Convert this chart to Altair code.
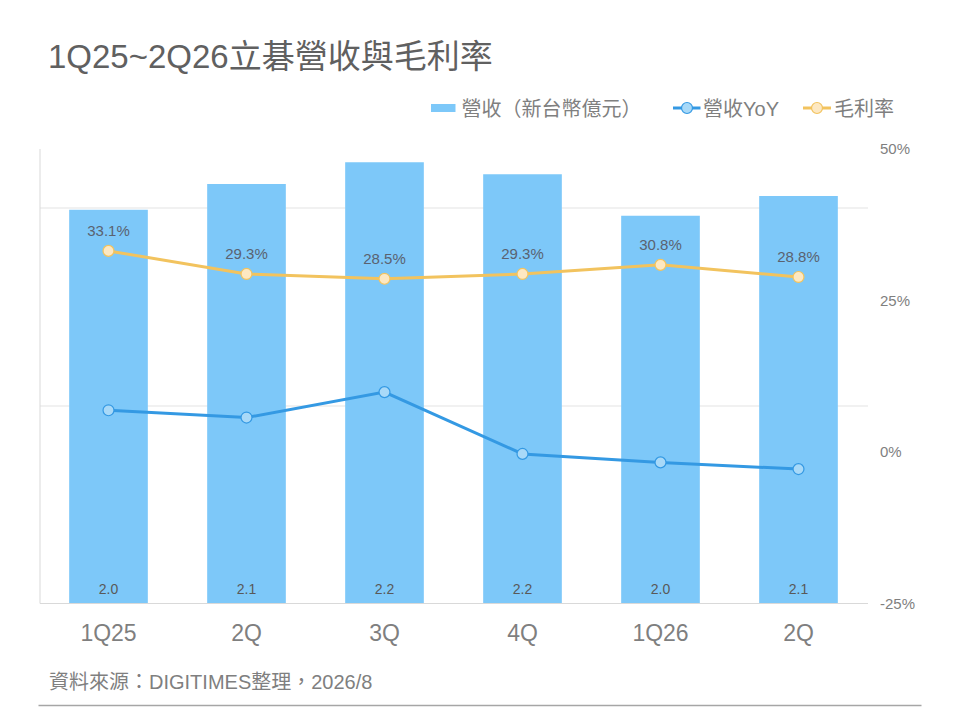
import altair as alt
import pandas as pd

FONT = "Arial, Liberation Sans, Noto Sans CJK TC"

quarters = ["1Q25", "2Q", "3Q", "4Q", "1Q26", "2Q "]
revenue = [1.99, 2.12, 2.23, 2.17, 1.96, 2.06]  # 新台幣億元
revenue_yoy = [6.8, 5.6, 9.8, -0.4, -1.8, -2.9]  # %
gross_margin = [33.1, 29.3, 28.5, 29.3, 30.8, 28.8]  # %

series_names = ["營收YoY", "毛利率"]
line_colors = ["#3499E3", "#F2C35E"]
point_fills = ["#A8D9F8", "#FDE8C2"]

bars_df = pd.DataFrame({"quarter": quarters, "revenue": revenue})
lines_df = pd.concat(
    [
        pd.DataFrame({"quarter": quarters, "series": series_names[0], "pct": revenue_yoy}),
        pd.DataFrame({"quarter": quarters, "series": series_names[1], "pct": gross_margin}),
    ],
    ignore_index=True,
)

x_enc = alt.X(
    "quarter:N",
    sort=quarters,
    title=None,
    scale=alt.Scale(paddingInner=0.43, paddingOuter=0.215),
    axis=alt.Axis(
        labelAngle=0,
        labelFontSize=23,
        labelColor="#7f7f7f",
        labelPadding=19,
        ticks=False,
        domainColor="#d9d9d9",
    ),
)

left_y = alt.Y(
    "revenue:Q",
    title=None,
    scale=alt.Scale(domain=[0, 2.3], nice=False, zero=True),
    axis=alt.Axis(
        labels=False,
        ticks=False,
        values=[1, 2],
        grid=True,
        gridColor="#e3e3e3",
        domainColor="#d9d9d9",
    ),
)

bars = alt.Chart(bars_df).mark_bar(color="#7DC8F9").encode(x=x_enc, y=left_y)
bar_text = (
    alt.Chart(bars_df)
    .mark_text(fontSize=14, color="#595959", baseline="alphabetic", dy=-9, font=FONT)
    .encode(x=x_enc, y=alt.datum(0), text=alt.Text("revenue:Q", format=".1f"))
)
left = alt.layer(bars, bar_text)

right_y = alt.Y(
    "pct:Q",
    title=None,
    scale=alt.Scale(domain=[-25, 50], nice=False, zero=False),
    axis=alt.Axis(
        orient="right",
        values=[-25, 0, 25, 50],
        labelExpr="datum.value + '%'",
        labelFontSize=15,
        labelColor="#7f7f7f",
        labelPadding=12,
        ticks=False,
        domain=False,
        grid=False,
    ),
)

lines = (
    alt.Chart(lines_df)
    .mark_line(strokeWidth=3)
    .encode(
        x=x_enc,
        y=right_y,
        color=alt.Color(
            "series:N",
            scale=alt.Scale(domain=series_names, range=line_colors),
            legend=None,
        ),
    )
)
points = (
    alt.Chart(lines_df)
    .mark_circle(size=120, opacity=1, strokeWidth=1.2)
    .encode(
        x=x_enc,
        y=right_y,
        fill=alt.Fill(
            "series:N",
            scale=alt.Scale(domain=series_names, range=point_fills),
            legend=None,
        ),
        stroke=alt.Stroke(
            "series:N",
            scale=alt.Scale(domain=series_names, range=line_colors),
            legend=None,
        ),
    )
)
gm_text = (
    alt.Chart(lines_df)
    .transform_filter(alt.datum.series == "毛利率")
    .transform_calculate(label="format(datum.pct, '.1f') + '%'")
    .mark_text(fontSize=15, color="#5a6270", baseline="alphabetic", dy=-15, font=FONT)
    .encode(x=x_enc, y=right_y, text="label:N")
)
right = alt.layer(lines, points, gm_text)

# title, legend, source note, footer line
dummy = pd.DataFrame({"k": [0]})


def label(text, x, y, size, color, weight="normal"):
    return (
        alt.Chart(dummy)
        .mark_text(
            text=text,
            align="left",
            baseline="alphabetic",
            fontSize=size,
            color=color,
            fontWeight=weight,
            font=FONT,
        )
        .encode(x=alt.value(x), y=alt.value(y))
    )


title = label("1Q25~2Q26立碁營收與毛利率", 8.5, -80.5, 33, "#606060")
source = label("資料來源：DIGITIMES整理，2026/8", 9.5, 540.5, 20, "#7f7f7f")

leg_rect = (
    alt.Chart(dummy)
    .mark_rect(color="#7DC8F9")
    .encode(x=alt.value(391.5), x2=alt.value(416), y=alt.value(-44.5), y2=alt.value(-36.5))
)
leg_text1 = label("營收（新台幣億元）", 422, -32.5, 20, "#7f7f7f")
leg_line1 = (
    alt.Chart(dummy)
    .mark_rule(color=line_colors[0], strokeWidth=3)
    .encode(x=alt.value(633.5), x2=alt.value(661), y=alt.value(-40.5))
)
leg_pt1 = (
    alt.Chart(dummy)
    .mark_circle(size=120, opacity=1, fill=point_fills[0], stroke=line_colors[0], strokeWidth=1.2)
    .encode(x=alt.value(647.5), y=alt.value(-40.5))
)
leg_text2 = label("營收YoY", 663.5, -32.5, 20, "#7f7f7f")
leg_line2 = (
    alt.Chart(dummy)
    .mark_rule(color=line_colors[1], strokeWidth=3)
    .encode(x=alt.value(763.5), x2=alt.value(791.5), y=alt.value(-40.5))
)
leg_pt2 = (
    alt.Chart(dummy)
    .mark_circle(size=120, opacity=1, fill=point_fills[1], stroke=line_colors[1], strokeWidth=1.2)
    .encode(x=alt.value(777.5), y=alt.value(-40.5))
)
leg_text3 = label("毛利率", 794.5, -32.5, 20, "#7f7f7f")
footer = (
    alt.Chart(dummy)
    .mark_rule(color="#a6a6a6", strokeWidth=1.5)
    .encode(x=alt.value(-1), x2=alt.value(882), y=alt.value(557))
)

chart = (
    alt.layer(
        left,
        right,
        title,
        source,
        leg_rect,
        leg_text1,
        leg_line1,
        leg_pt1,
        leg_text2,
        leg_line2,
        leg_pt2,
        leg_text3,
        footer,
    )
    .resolve_scale(y="independent")
    .properties(
        width=828,
        height=454.5,
        autosize=alt.AutoSizeParams(type="none"),
        padding={"left": 31.5, "top": 140.5, "right": 84.5, "bottom": 106},
    )
    .configure(font=FONT)
    .configure_view(stroke=None)
)

chart.save("out.html", embed_options={"renderer": "svg", "actions": False})
